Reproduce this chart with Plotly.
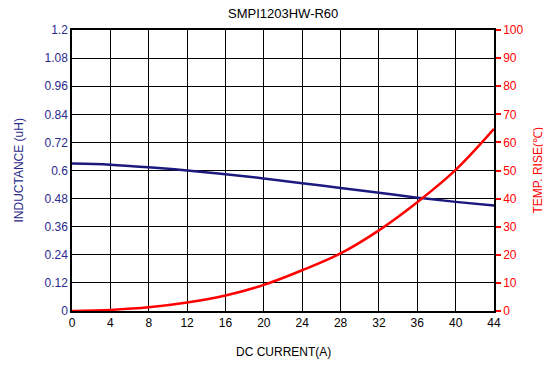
import plotly.graph_objects as go

current = [0, 4, 8, 12, 16, 20, 24, 28, 32, 36, 40, 44]
inductance = [0.630, 0.625, 0.614, 0.600, 0.584, 0.566, 0.546, 0.525, 0.505, 0.484, 0.466, 0.450]
temp_rise = [0, 0.4, 1.3, 3.0, 5.5, 9.3, 14.5, 20.5, 28.7, 38.7, 50.2, 64.8]

x_ticks = list(range(0, 45, 4))
l_ticks = [0, 0.12, 0.24, 0.36, 0.48, 0.6, 0.72, 0.84, 0.96, 1.08, 1.2]
l_labels = ["0", "0.12", "0.24", "0.36", "0.48", "0.6", "0.72", "0.84", "0.96", "1.08", "1.2"]
r_ticks = list(range(0, 101, 10))

BLUE = "#2b2a8c"
NAVY = "#1c1a7e"
RED = "#ff0000"
FONT = "Liberation Sans, Arial, sans-serif"

W, H = 543, 366
ML, MR, MT, MB = 72, 49, 30, 55
PW, PH = W - ML - MR, H - MT - MB

fig = go.Figure()
fig.add_trace(go.Scatter(x=current, y=inductance, mode="lines", line=dict(color=NAVY, width=2.5, shape="spline"),
                         yaxis="y", showlegend=False))
fig.add_trace(go.Scatter(x=current, y=temp_rise, mode="lines", line=dict(color=RED, width=2.5, shape="spline"),
                         yaxis="y2", showlegend=False))

fig.update_layout(
    width=W, height=H,
    margin=dict(l=ML, r=MR, t=MT, b=MB, autoexpand=False),
    paper_bgcolor="white", plot_bgcolor="white",
    font=dict(family=FONT, size=12, color="black"),
    xaxis=dict(range=[0, 44], tickvals=x_ticks, showgrid=True, gridcolor="black", gridwidth=1,
               showline=True, linecolor="black", linewidth=1.5, mirror=True, zeroline=False,
               ticks="", tickfont=dict(color="black", size=12), automargin=False),
    yaxis=dict(range=[0, 1.2], tickvals=l_ticks, ticktext=l_labels, showgrid=True, gridcolor="black",
               gridwidth=1, showline=True, linecolor="black", linewidth=1.5, zeroline=False, ticks="",
               tickfont=dict(color=BLUE, size=12), automargin=False),
    yaxis2=dict(range=[0, 100], tickvals=r_ticks, overlaying="y", side="right", showgrid=False,
                showline=True, linecolor="black", linewidth=1.5, zeroline=False,
                ticks="outside", ticklen=5, tickcolor=RED, tickwidth=2,
                tickfont=dict(color=RED, size=12), automargin=False),
    annotations=[
        dict(text="SMPI1203HW-R60", xref="paper", yref="paper", x=0.5, y=1 + 17 / PH,
             xanchor="center", yanchor="middle", showarrow=False, font=dict(size=13, color="black")),
        dict(text="DC CURRENT(A)", xref="paper", yref="paper", x=0.5, y=-41 / PH,
             xanchor="center", yanchor="middle", showarrow=False, font=dict(size=12, color="black")),
        dict(text="INDUCTANCE (uH)", xref="paper", yref="paper", x=-(ML - 18) / PW, y=0.5,
             xanchor="center", yanchor="middle", textangle=-90, showarrow=False, font=dict(size=12, color=BLUE)),
        dict(text="TEMP. RISE(℃)", xref="paper", yref="paper", x=1 + 43 / PW, y=0.5,
             xanchor="center", yanchor="middle", textangle=-90, showarrow=False, font=dict(size=12, color=RED)),
    ],
)

fig.write_html("out.html", config={"displayModeBar": False},
               post_script="document.body.style.margin='0';")
